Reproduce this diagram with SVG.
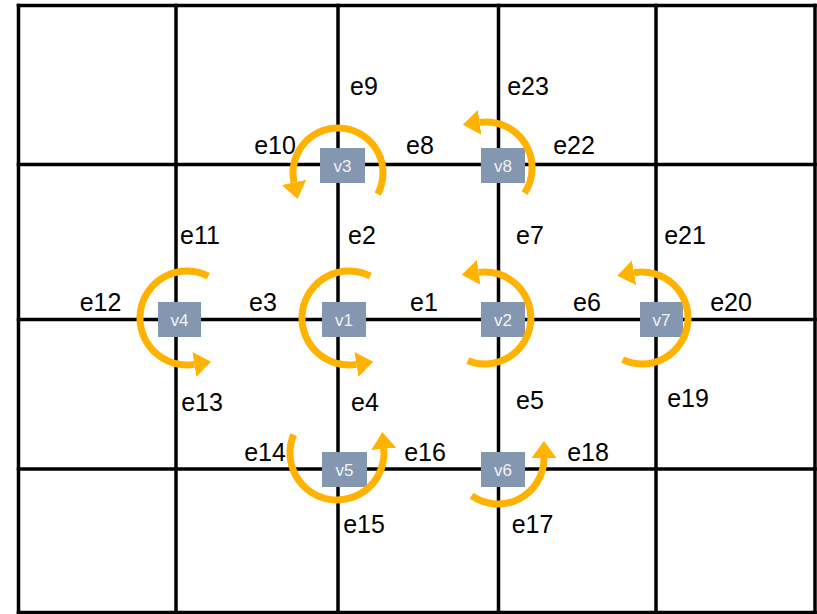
<svg xmlns="http://www.w3.org/2000/svg" width="817" height="614" viewBox="0 0 817 614">
<style>
.grid line{stroke:#000;stroke-width:3.5;stroke-linecap:square}
.node rect{fill:#8497B0}
.node text{font-family:"Liberation Sans",Arial,sans-serif;font-size:17px;fill:#F2F2F2;text-anchor:middle}
.loop{fill:none;stroke:#FFB300;stroke-width:7;marker-end:url(#ah)}
.lbl{font-family:"Liberation Sans",Arial,sans-serif;font-size:25px;fill:#000;text-anchor:middle}
</style>
<defs>
<marker id="ah" viewBox="0 0 17 25" refX="0" refY="12.5" markerWidth="17" markerHeight="25" markerUnits="userSpaceOnUse" orient="auto">
<path d="M0,0 L17,12.5 L0,25 z" fill="#FFB300"/>
</marker>
</defs>
<rect x="0" y="0" width="817" height="614" fill="#fff"/>
<g id="grid" class="grid">
<line x1="18.5" y1="5.5" x2="815" y2="5.5"/>
<line x1="18.5" y1="164.5" x2="815" y2="164.5"/>
<line x1="18.5" y1="319.5" x2="815" y2="319.5"/>
<line x1="18.5" y1="469" x2="815" y2="469"/>
<line x1="18.5" y1="612.5" x2="815" y2="612.5"/>
<line x1="18.5" y1="5.5" x2="18.5" y2="612.5"/>
<line x1="176" y1="5.5" x2="176" y2="612.5"/>
<line x1="338" y1="5.5" x2="338" y2="612.5"/>
<line x1="498.5" y1="5.5" x2="498.5" y2="612.5"/>
<line x1="656" y1="5.5" x2="656" y2="612.5"/>
<line x1="815" y1="5.5" x2="815" y2="612.5"/>
</g>
<g id="v3" class="node"><rect x="320" y="148" width="45" height="35"/><text x="342.5" y="171.5">v3</text></g>
<g id="v8" class="node"><rect x="481" y="148" width="44" height="35"/><text x="503" y="171.5">v8</text></g>
<g id="v4" class="node"><rect x="158" y="302" width="43" height="35"/><text x="179.5" y="325.5">v4</text></g>
<g id="v1" class="node"><rect x="322" y="302" width="44" height="35"/><text x="344" y="325.5">v1</text></g>
<g id="v2" class="node"><rect x="481" y="302" width="44" height="35"/><text x="503" y="325.5">v2</text></g>
<g id="v7" class="node"><rect x="640" y="302" width="43" height="35"/><text x="661.5" y="325.5">v7</text></g>
<g id="v5" class="node"><rect x="322" y="452" width="45" height="35"/><text x="344.5" y="475.5">v5</text></g>
<g id="v6" class="node"><rect x="481" y="452" width="44" height="35"/><text x="503" y="475.5">v6</text></g>
<g id="connectors">
<path class="loop" d="M377.7,194.1 A45,45 0 1 0 294.0,182.4"/>
<path class="loop" d="M524.6,193.1 A46,46 0 0 0 479.6,122.4"/>
<path class="loop" d="M208.3,276.1 A47,47 0 1 0 194.4,364.4"/>
<path class="loop" d="M370.3,276.1 A47,47 0 1 0 356.4,364.4"/>
<path class="loop" d="M467.8,360.7 A46,46 0 1 0 478.6,272.4"/>
<path class="loop" d="M622.6,359.7 A46,46 0 1 0 634.0,272.7"/>
<path class="loop" d="M293.7,434.6 A47,47 0 1 0 383.8,448.9"/>
<path class="loop" d="M471.6,495.7 A46,46 0 0 0 544,458"/>
</g>
<g id="labels" class="lbl">
<text class="lbl" x="364" y="95">e9</text>
<text class="lbl" x="528" y="95">e23</text>
<text class="lbl" x="275" y="154">e10</text>
<text class="lbl" x="420" y="154">e8</text>
<text class="lbl" x="574" y="154">e22</text>
<text class="lbl" x="200" y="244">e11</text>
<text class="lbl" x="362" y="244">e2</text>
<text class="lbl" x="530" y="244">e7</text>
<text class="lbl" x="685" y="244">e21</text>
<text class="lbl" x="100.5" y="311">e12</text>
<text class="lbl" x="263" y="311">e3</text>
<text class="lbl" x="424" y="311">e1</text>
<text class="lbl" x="587" y="311">e6</text>
<text class="lbl" x="731" y="311">e20</text>
<text class="lbl" x="202" y="411">e13</text>
<text class="lbl" x="365" y="411">e4</text>
<text class="lbl" x="530" y="409">e5</text>
<text class="lbl" x="688" y="407">e19</text>
<text class="lbl" x="265" y="461">e14</text>
<text class="lbl" x="425" y="461">e16</text>
<text class="lbl" x="588" y="461">e18</text>
<text class="lbl" x="364" y="533">e15</text>
<text class="lbl" x="532.5" y="533">e17</text>
</g>
</svg>
